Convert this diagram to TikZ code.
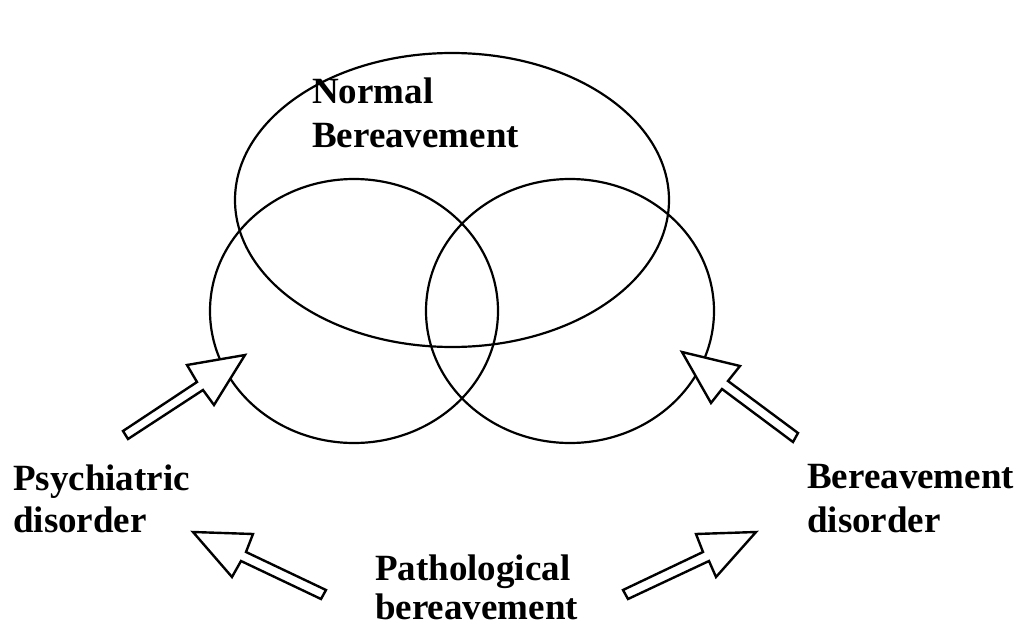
\documentclass[tikz,border=0pt]{standalone}
\usepackage{fontspec}
\setmainfont{Liberation Serif}
\begin{document}
\begin{tikzpicture}[x=1pt,y=-1pt,
  ring/.style={draw=black,line width=2.2pt},
  fatarrow/.style={draw=black,line width=2.4pt,fill=white,line join=miter},
  lbl/.style={anchor=base west,inner sep=0pt,font=\fontsize{37}{44}\selectfont\bfseries}]
\useasboundingbox (0,0) rectangle (1021,629);
% ellipses
\draw[ring] (452,200) ellipse [x radius=217, y radius=147];
\draw[ring] (354,311) ellipse [x radius=144, y radius=132];
\draw[ring] (570,311) ellipse [x radius=144, y radius=132];
% labels
\node[lbl] (n1) at (312,103) {Normal};
\node[lbl] (n2) at (312,147) {Bereavement};
\node[lbl] (p1) at (13,490) {Psychiatric};
\node[lbl] (p2) at (13,532) {disorder};
\node[lbl] (b1) at (807,488) {Bereavement};
\node[lbl] (b2) at (807,532) {disorder};
\node[lbl] (t1) at (375,580) {Pathological};
\node[lbl] (t2) at (375,619) {bereavement};
% block arrows
\draw[fatarrow] (123,431) -- (197,382) -- (187,365) -- (245,355) -- (214,405) -- (203,390) -- (128,439) -- cycle;
\draw[fatarrow] (798,433) -- (728,381) -- (740,366) -- (682,352) -- (711,403) -- (722,389) -- (793,442) -- cycle;
\draw[fatarrow] (326,590) -- (246,552) -- (253,534) -- (193,532) -- (232,577) -- (241,561) -- (321,599) -- cycle;
\draw[fatarrow] (623,590) -- (703,552) -- (696,534) -- (756,532) -- (716,577) -- (709,561) -- (628,599) -- cycle;
\end{tikzpicture}
\end{document}
